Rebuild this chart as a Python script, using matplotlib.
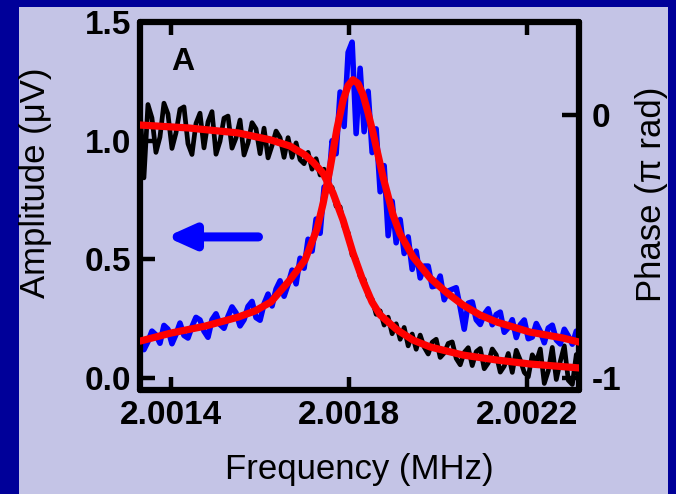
import numpy as np
import matplotlib
matplotlib.use("Agg")
import matplotlib.pyplot as plt
from matplotlib.patches import Rectangle

plt.rcParams["font.family"] = ["Liberation Sans", "DejaVu Sans"]

# sweep settings (MHz)
sweep_start = 2.00133
sweep_stop = 2.00232
sweep_points = 111

# measured amplitude (uV) along the sweep
amp_data = [
    0.176, 0.120, 0.154, 0.198, 0.182, 0.147, 0.222, 0.206, 0.145, 0.184,
    0.232, 0.180, 0.169, 0.217, 0.256, 0.245, 0.198, 0.172, 0.246, 0.271,
    0.226, 0.210, 0.260, 0.300, 0.275, 0.220, 0.246, 0.302, 0.323, 0.255,
    0.244, 0.313, 0.354, 0.304, 0.375, 0.410, 0.345, 0.395, 0.455, 0.397,
    0.505, 0.463, 0.585, 0.535, 0.670, 0.610, 0.805, 0.790, 1.000, 0.945,
    1.205, 1.060, 1.372, 1.415, 1.030, 1.305, 1.038, 1.208, 0.950, 1.050,
    0.785, 0.895, 0.600, 0.745, 0.570, 0.668, 0.525, 0.595, 0.458, 0.535,
    0.422, 0.472, 0.472, 0.385, 0.390, 0.430, 0.330, 0.367, 0.374, 0.381,
    0.298, 0.206, 0.316, 0.321, 0.246, 0.226, 0.269, 0.292, 0.225, 0.268,
    0.278, 0.193, 0.212, 0.246, 0.171, 0.225, 0.245, 0.166, 0.173, 0.230,
    0.197, 0.149, 0.211, 0.223, 0.161, 0.144, 0.206, 0.177, 0.143, 0.198,
    0.172,
]

# measured phase (pi rad) along the sweep
phase_data = [
    0.032, -0.239, 0.040, -0.011, -0.142, -0.084, 0.045, 0.004, -0.127, -0.068,
    0.022, 0.031, -0.109, -0.150, -0.032, 0.007, -0.125, -0.026, 0.013, -0.149,
    -0.100, -0.012, -0.004, -0.126, -0.087, -0.019, -0.152, -0.106, -0.029, -0.053,
    -0.147, -0.050, -0.163, -0.116, -0.061, -0.086, -0.161, -0.086, -0.161, -0.106,
    -0.170, -0.185, -0.142, -0.206, -0.166, -0.228, -0.206, -0.283, -0.275, -0.347,
    -0.349, -0.426, -0.447, -0.533, -0.547, -0.615, -0.625, -0.690, -0.701, -0.758,
    -0.745, -0.799, -0.769, -0.832, -0.794, -0.853, -0.808, -0.878, -0.833, -0.891,
    -0.837, -0.883, -0.909, -0.864, -0.853, -0.922, -0.905, -0.869, -0.863, -0.926,
    -0.950, -0.903, -0.885, -0.953, -0.900, -0.888, -0.965, -0.943, -0.890, -0.912,
    -0.978, -0.955, -0.907, -0.979, -0.895, -0.932, -0.979, -0.996, -0.912, -0.939,
    -0.890, -1.021, -0.973, -0.884, -1.006, -0.937, -0.878, -1.009, -1.025, -0.911,
    -0.952,
]

# fitted resonance curves
amp_fit_freq = [
    2.0013303, 2.0014000, 2.0014764, 2.0015506, 2.0015888, 2.0016247, 2.0016674,
    2.0017011, 2.0017281, 2.0017416, 2.0017573, 2.0017730, 2.0017865, 2.0017978,
    2.0018090, 2.0018202, 2.0018315, 2.0018427, 2.0018539, 2.0018764, 2.0018989,
    2.0019146, 2.0019438, 2.0019820, 2.0020202, 2.0020562, 2.0020944, 2.0021326,
    2.0022067, 2.0022809, 2.0023169,
]
amp_fit = [
    0.156, 0.190, 0.219, 0.257, 0.283, 0.321, 0.414,
    0.498, 0.629, 0.734, 0.882, 1.051, 1.169, 1.232,
    1.257, 1.241, 1.194, 1.118, 1.034, 0.848, 0.688,
    0.608, 0.511, 0.422, 0.359, 0.308, 0.266, 0.236,
    0.194, 0.169, 0.152,
]

phase_fit_freq = [
    2.0013303, 2.0014382, 2.0015506, 2.0016247, 2.0016674, 2.0017011, 2.0017191,
    2.0017416, 2.0017640, 2.0017865, 2.0018090, 2.0018315, 2.0018517, 2.0018697,
    2.0019079, 2.0019438, 2.0019820, 2.0020562, 2.0021326, 2.0022067, 2.0023169,
]
phase_fit = [
    -0.038, -0.049, -0.068, -0.095, -0.118, -0.152, -0.179,
    -0.221, -0.297, -0.399, -0.525, -0.631, -0.711, -0.760,
    -0.817, -0.856, -0.882, -0.913, -0.932, -0.947, -0.962,
]

freq_ticks = [2.0014, 2.0018, 2.0022]
freq_labels = ["2.0014", "2.0018", "2.0022"]
amp_ticks = [0.0, 0.5, 1.0, 1.5]
amp_labels = ["0.0", "0.5", "1.0", "1.5"]
phase_ticks = [-1, 0]
phase_labels = ["-1", "0"]

navy = "#000099"
lavender = "#c4c4e6"

freq = np.linspace(sweep_start, sweep_stop, sweep_points)

fig = plt.figure(figsize=(6.76, 4.94), dpi=100, facecolor=navy)
fig.patches.append(Rectangle((19 / 676, 0), 649 / 676, 487 / 494,
                             transform=fig.transFigure, facecolor=lavender,
                             edgecolor="none", zorder=-1))

ax = fig.add_axes([0.207, 0.2105, 0.6495, 0.745])
ax.set_facecolor(lavender)
twin = ax.twinx()

ax.set_xlim(2.00133, 2.002317)
ax.set_ylim(-0.05, 1.5)
twin.set_ylim(-1.046, 0.354)

# phase curves go on the main axes but use the right-hand scale
ax.plot(freq, phase_data, color="black", lw=3.4, zorder=1,
        transform=twin.transData)
ax.plot(freq, amp_data, color="#0000ff", lw=4.0, zorder=2)
ax.plot(phase_fit_freq, phase_fit, color="#ff0000", lw=5.2, zorder=3,
        solid_capstyle="round", transform=twin.transData)
ax.plot(amp_fit_freq, amp_fit, color="#ff0000", lw=5.2, zorder=4,
        solid_capstyle="round")

ax.set_xticks(freq_ticks)
ax.set_xticklabels(freq_labels, fontsize=24, fontweight="bold")
ax.set_yticks(amp_ticks)
ax.set_yticklabels(amp_labels, fontsize=24, fontweight="bold")
ax.tick_params(axis="x", direction="in", top=True, length=9.5, width=3.2, pad=7)
ax.tick_params(axis="y", direction="in", right=False, length=11, width=3.2, pad=6)

twin.set_yticks(phase_ticks)
twin.set_yticklabels(phase_labels, fontsize=24, fontweight="bold")
twin.tick_params(axis="y", direction="in", length=12, width=3.2, pad=9)
for sp in twin.spines.values():
    sp.set_visible(False)
for sp in ax.spines.values():
    sp.set_linewidth(4.5)
    sp.set_capstyle("round")

ax.set_xlabel("Frequency (MHz)", fontsize=25, va="center")
ax.xaxis.set_label_coords(0.5, -0.217)
ax.set_ylabel("Amplitude (\u03bcV)", fontsize=25, va="center")
ax.yaxis.set_label_coords(-0.237, 0.5625)
twin.set_ylabel("Phase (\u03c0 rad)", fontsize=25, va="center")
twin.yaxis.set_label_coords(1.164, 0.533)

ax.text(0.098, 0.891, "A", transform=ax.transAxes, fontsize=23,
        fontweight="bold", ha="center", va="center")

# arrow pointing to the amplitude scale
ax.annotate("", xy=(0.06, 0.416), xytext=(0.27, 0.416),
            xycoords="axes fraction", textcoords="axes fraction",
            arrowprops=dict(arrowstyle="-|>,head_length=0.8,head_width=0.36",
                            mutation_scale=20, color="#0000ff", lw=6.5,
                            capstyle="round", joinstyle="round",
                            shrinkA=0, shrinkB=0))

fig.savefig("out.png", dpi=100, facecolor=navy)
